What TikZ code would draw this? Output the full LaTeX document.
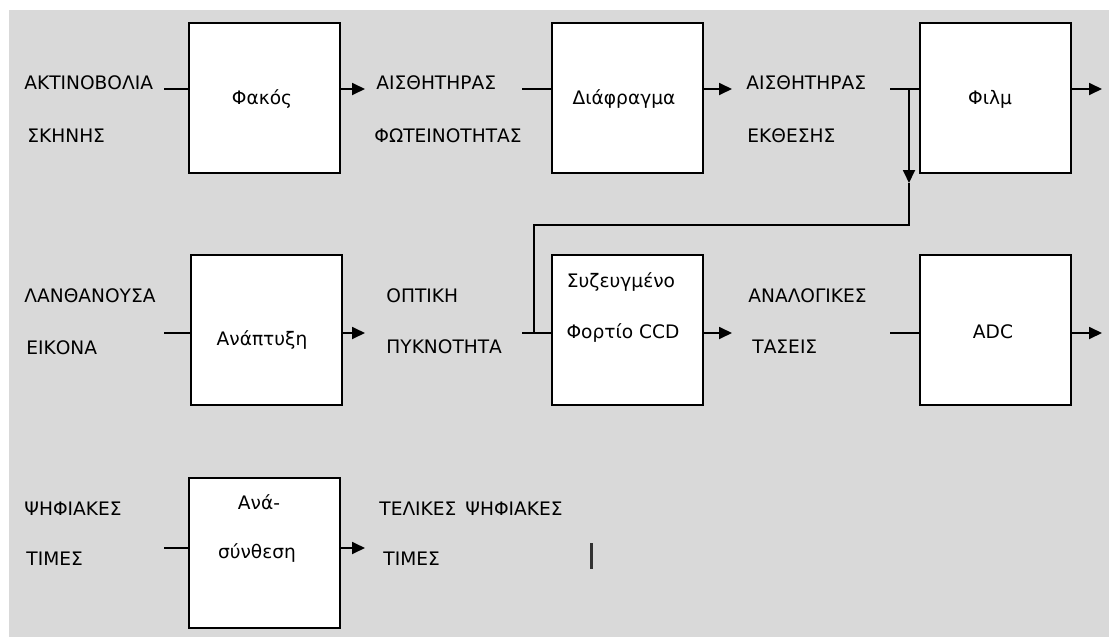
\documentclass[tikz,border=0pt]{standalone}
\usepackage{fontspec}
\setmainfont{DejaVu Sans}
\usetikzlibrary{arrows.meta}
\definecolor{panel}{RGB}{217,217,217}
\definecolor{caret}{RGB}{50,50,50}

\begin{document}
\begin{tikzpicture}[x=0.5pt,y=-0.5pt,
  blockbox/.style={draw=black, fill=white, line width=1pt,
    minimum width=75.5pt, minimum height=75pt, inner sep=0pt},
  lbl/.style={anchor=base west, inner sep=0pt, font=\fontsize{9.3}{11}\selectfont},
  boxtxt/.style={anchor=base, inner sep=0pt, font=\fontsize{9.3}{11}\selectfont},
  wire/.style={line width=0.9pt},
  flow/.style={wire, -{Triangle[length=6.5pt,width=6pt]}},
]
\useasboundingbox (0,0) rectangle (1109,637);
\fill[panel] (9,10) rectangle (1109,637);

% processing blocks
\node[blockbox] (fakos)     at (264.5,98)  {};
\node[blockbox] (diafragma) at (627,98)    {};
\node[blockbox] (film)      at (995.5,98)  {};
\node[blockbox] (anaptyxi)  at (266,329.5) {};
\node[blockbox] (ccd)       at (627,330)   {};
\node[blockbox] (adc)       at (995.5,330) {};
\node[blockbox] (synthesi)  at (264.5,552.5) {};

% block captions
\node[boxtxt] (fakos-t)     at (262,104) {Φακός};
\node[boxtxt] (diafragma-t) at (624,104) {Διάφραγμα};
\node[boxtxt] (film-t)      at (990,104) {Φιλμ};
\node[boxtxt] (anaptyxi-t)  at (262,345) {Ανάπτυξη};
\node[boxtxt] (ccd-t1)      at (621,287) {Συζευγμένο};
\node[boxtxt] (ccd-t2)      at (623,338) {Φορτίο CCD};
\node[boxtxt] (adc-t)       at (993,338) {ADC};
\node[boxtxt] (synthesi-t1) at (259,509) {Ανά-};
\node[boxtxt] (synthesi-t2) at (257,558) {σύνθεση};

% signal names
\node[lbl] (s1a) at (24,90)   {ΑΚΤΙΝΟΒΟΛΙΑ};
\node[lbl] (s1b) at (27,142)  {ΣΚΗΝΗΣ};
\node[lbl] (s2a) at (376,90)  {ΑΙΣΘΗΤΗΡΑΣ};
\node[lbl] (s2b) at (374,142) {ΦΩΤΕΙΝΟΤΗΤΑΣ};
\node[lbl] (s3a) at (746,90)  {ΑΙΣΘΗΤΗΡΑΣ};
\node[lbl] (s3b) at (747,142) {ΕΚΘΕΣΗΣ};
\node[lbl] (s4a) at (24,302)  {ΛΑΝΘΑΝΟΥΣΑ};
\node[lbl] (s4b) at (26,354)  {ΕΙΚΟΝΑ};
\node[lbl] (s5a) at (386,302) {ΟΠΤΙΚΗ};
\node[lbl] (s5b) at (386,353) {ΠΥΚΝΟΤΗΤΑ};
\node[lbl] (s6a) at (748,302) {ΑΝΑΛΟΓΙΚΕΣ};
\node[lbl] (s6b) at (752,353) {ΤΑΣΕΙΣ};
\node[lbl] (s7a) at (24,515)  {ΨΗΦΙΑΚΕΣ};
\node[lbl] (s7b) at (26,565)  {ΤΙΜΕΣ};
\node[lbl] (s8a) at (379,515) {ΤΕΛΙΚΕΣ\hspace{4.5pt}ΨΗΦΙΑΚΕΣ};
\node[lbl] (s8b) at (383,565) {ΤΙΜΕΣ};

% free ends of the connectors
\coordinate (in1) at (164,89);  \coordinate (out1) at (365,89);
\coordinate (in2) at (522,89);  \coordinate (out2) at (732,89);
\coordinate (in3) at (890,89);  \coordinate (out3) at (1102,89);
\coordinate (in4) at (164,333); \coordinate (out4) at (365,333);
\coordinate (in5) at (522,333); \coordinate (out5) at (732,333);
\coordinate (in6) at (890,333); \coordinate (out6) at (1102,333);
\coordinate (in7) at (164,548); \coordinate (out7) at (365,548);

% row 1
\draw[wire] (in1) -- (in1 -| fakos.west);
\draw[flow] (out1 -| fakos.east) -- (out1);
\draw[wire] (in2) -- (in2 -| diafragma.west);
\draw[flow] (out2 -| diafragma.east) -- (out2);
\draw[wire] (in3) -- (in3 -| film.west);
\draw[flow] (out3 -| film.east) -- (out3);

% branch from the exposure sensor down to the CCD input
\coordinate (tap)  at (909,89);
\coordinate (tip)  at (909,183);
\coordinate (bend) at (909,225);
\coordinate (join) at (534,333);
\draw[flow] (tap) -- (tip);
\draw[wire] (tip) -- (bend) -| (join);

% row 2
\draw[wire] (in4) -- (in4 -| anaptyxi.west);
\draw[flow] (out4 -| anaptyxi.east) -- (out4);
\draw[wire] (in5) -- (in5 -| ccd.west);
\draw[flow] (out5 -| ccd.east) -- (out5);
\draw[wire] (in6) -- (in6 -| adc.west);
\draw[flow] (out6 -| adc.east) -- (out6);

% row 3
\draw[wire] (in7) -- (in7 -| synthesi.west);
\draw[flow] (out7 -| synthesi.east) -- (out7);

% text caret
\coordinate (caret-top) at (591,543);
\coordinate (caret-bot) at (591,569);
\draw[caret, line width=1.5pt] (caret-top) -- (caret-bot);
\end{tikzpicture}
\end{document}
